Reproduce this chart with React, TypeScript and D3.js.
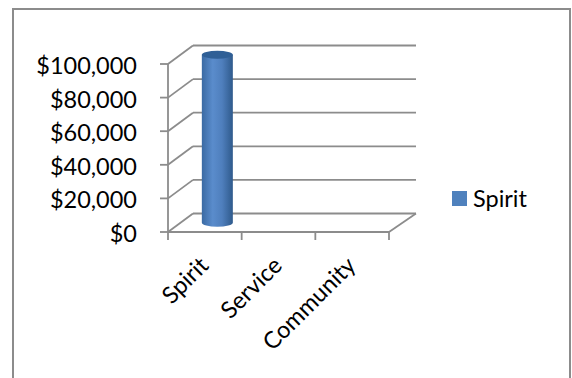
import React, { useEffect, useRef } from 'react';
import * as d3 from 'd3';

const categories = ['Spirit', 'Service', 'Community'];
const seriesName = 'Spirit';
const seriesValues = [100000, 0, 0];
const yTicks = [0, 20000, 40000, 60000, 80000, 100000];

const WIDTH = 572;
const HEIGHT = 378;
const FONT = 'Lato, "Open Sans", sans-serif';
const FONT_SIZE = '23.5px';
const GRID = '#8c8c8c';

const App: React.FC = () => {
  const chartRef = useRef<SVGSVGElement | null>(null);

  useEffect(() => {
    if (!chartRef.current) return;

    const svg = d3.select(chartRef.current);
    svg.selectAll('*').remove();

    const depth = { x: 25, y: -18.5 };

    const xScale = d3.scaleBand().domain(categories).range([168, 389]);
    const yScale = d3.scaleLinear().domain([0, 100000]).range([232, 64]);
    const bottom = yScale(0);

    // cylinder shading
    const grad = svg.append('defs').append('linearGradient')
      .attr('id', 'cyl')
      .attr('x1', '0%').attr('x2', '100%');
    grad.append('stop').attr('offset', '0%').attr('stop-color', '#3a6aa3');
    grad.append('stop').attr('offset', '35%').attr('stop-color', '#5a8ccc');
    grad.append('stop').attr('offset', '65%').attr('stop-color', '#4f7fbd');
    grad.append('stop').attr('offset', '100%').attr('stop-color', '#2f5a8c');

    // chart frame, runs past the bottom of the picture
    svg.append('rect')
      .attr('x', 13).attr('y', 9)
      .attr('width', 557).attr('height', HEIGHT + 20)
      .attr('fill', 'white')
      .attr('stroke', GRID)
      .attr('stroke-width', 2);

    const line = (x1: number, y1: number, x2: number, y2: number) =>
      svg.append('line')
        .attr('x1', x1).attr('y1', y1)
        .attr('x2', x2).attr('y2', y2)
        .attr('stroke', GRID)
        .attr('stroke-width', 1.8);

    const [x0, x1] = xScale.range();

    // gridlines on the back wall and side wall
    yTicks.forEach(t => {
      const y = yScale(t);
      line(x0 + depth.x, y + depth.y, x1 + depth.x + 2, y + depth.y);
      line(x0, y, x0 + depth.x, y + depth.y);
      line(x0 - 8, y, x0, y);
    });

    // floor edges and axes
    line(x0, yScale(100000), x0, bottom);
    line(x0, bottom, x1, bottom);
    line(x1, bottom, x1 + depth.x + 2, bottom + depth.y);

    const xTicks = [...categories.map(c => xScale(c) as number), x1];
    xTicks.forEach(x => line(x, bottom, x, bottom + 8));

    // y labels
    svg.append('g')
      .selectAll('text')
      .data(yTicks)
      .enter().append('text')
      .attr('x', 137)
      .attr('y', d => yScale(d) + 10)
      .style('text-anchor', 'end')
      .style('font-family', FONT)
      .style('font-size', FONT_SIZE)
      .style('fill', '#000')
      .text(d => d3.format('$,')(d));

    // x labels
    svg.append('g')
      .selectAll('text')
      .data(categories)
      .enter().append('text')
      .attr('transform', d => `translate(${(xScale(d) as number) + xScale.bandwidth() / 2 + 5},${bottom + 35}) rotate(-45)`)
      .style('text-anchor', 'end')
      .style('font-family', FONT)
      .style('font-size', FONT_SIZE)
      .style('fill', '#000')
      .text(d => d);

    // cylinders
    const rx = 15.5;
    const ry = 4;
    categories.forEach((c, i) => {
      if (!seriesValues[i]) return;
      const cx = (xScale(c) as number) + xScale.bandwidth() / 2 + depth.x / 2;
      const yTop = yScale(seriesValues[i]) + depth.y / 2;
      const yBase = bottom + depth.y / 2;
      svg.append('path')
        .attr('d', `M${cx - rx},${yTop}L${cx - rx},${yBase}A${rx},${ry} 0 0 0 ${cx + rx},${yBase}L${cx + rx},${yTop}Z`)
        .attr('fill', 'url(#cyl)');
      svg.append('ellipse')
        .attr('cx', cx).attr('cy', yTop)
        .attr('rx', rx).attr('ry', ry)
        .attr('fill', '#2f5f96');
    });

    // legend
    svg.append('rect')
      .attr('x', 452).attr('y', 191)
      .attr('width', 15).attr('height', 15)
      .attr('fill', '#4f81bd');
    svg.append('text')
      .attr('x', 473).attr('y', 207)
      .style('font-family', FONT)
      .style('font-size', FONT_SIZE)
      .style('fill', '#000')
      .text(seriesName);
  }, []);

  return (
    <svg
      ref={chartRef}
      width={WIDTH}
      height={HEIGHT}
      style={{ position: 'absolute', left: 0, top: 0, background: 'white' }}
    ></svg>
  );
};

export default App;
